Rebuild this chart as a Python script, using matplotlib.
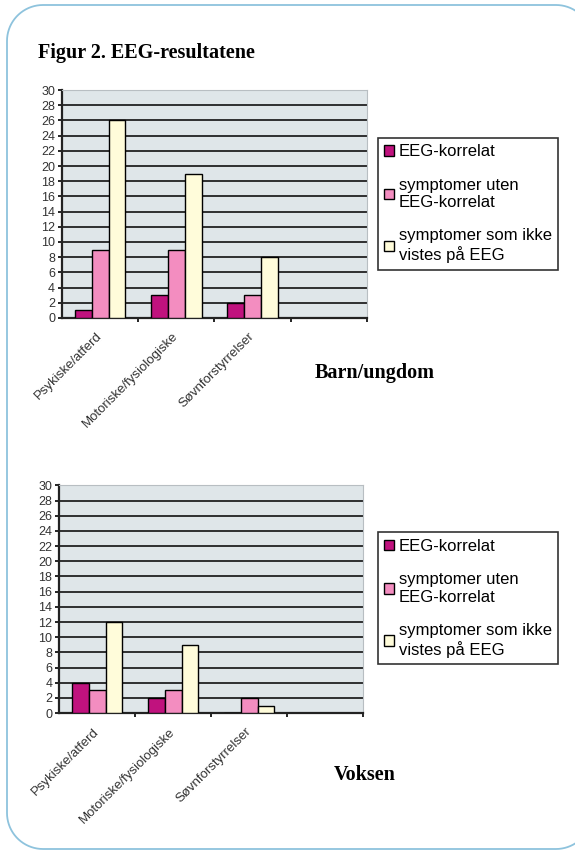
import matplotlib.pyplot as plt
from matplotlib.patches import PathPatch, Patch
from matplotlib.path import Path
from matplotlib.transforms import ScaledTranslation
import numpy as np

# Data
categories = ["Psykiske/atferd", "Motoriske/fysiologiske", "Søvnforstyrrelser", ""]
series_labels = ["EEG-korrelat", "symptomer uten\nEEG-korrelat", "symptomer som ikke\nvistes på EEG"]
barn_korrelat = [1, 3, 2]
barn_uten = [9, 9, 3]
barn_ikke = [26, 19, 8]
voksen_korrelat = [4, 2, 0]
voksen_uten = [3, 3, 2]
voksen_ikke = [12, 9, 1]
yticks = list(range(0, 31, 2))

colors = ["#C0127E", "#F38DC0", "#FFFCDA"]
plot_bg = "#DFE6E9"

fig = plt.figure(figsize=(5.75, 8.5), dpi=100)
fig.patch.set_facecolor("white")


def rounded_rect(x0, y0, x1, y1, r):
    # corners as quarter arcs, pixel coords (origin bottom-left)
    pts = []
    for cx, cy, a0 in [(x1 - r, y1 - r, 0), (x0 + r, y1 - r, 90),
                       (x0 + r, y0 + r, 180), (x1 - r, y0 + r, 270)]:
        a = np.radians(np.linspace(a0, a0 + 90, 20))
        pts += list(zip(cx + r * np.cos(a), cy + r * np.sin(a)))
    pts.append(pts[0])
    return Path(pts)


# frame around the figure, right side runs off the picture
frame = PathPatch(rounded_rect(7, 1, 592, 845, 36), transform=None,
                  facecolor="none", edgecolor="#8EC3DD", linewidth=1.3)
fig.patches.append(frame)

fig.text(0.066, 0.938, "Figur 2. EEG-resultatene", family="Liberation Serif",
         fontsize=14.5, fontweight="bold", va="center")


def draw_panel(rect, series, panel_label, label_pos, legend_pos):
    ax = fig.add_axes(rect)
    ax.set_facecolor(plot_bg)
    x = np.arange(len(categories))
    w = 0.22
    for i, vals in enumerate(series):
        ax.bar(np.arange(len(vals)) + (i - 1) * w, vals, w, color=colors[i],
               edgecolor="black", linewidth=1.0, zorder=3)
    ax.set_xlim(-0.5, len(categories) - 0.5)
    ax.set_ylim(0, 30)
    ax.set_yticks(yticks)
    ax.set_yticklabels([str(t) for t in yticks], family="Liberation Sans",
                       fontsize=9, color="#333333")
    ax.yaxis.grid(True, color="#111111", linewidth=1.2, zorder=1)
    ax.set_axisbelow(True)
    ax.set_xticks(x[:3])
    ax.set_xticklabels(categories[:3], rotation=45, ha="right", va="center",
                       rotation_mode="anchor", family="Liberation Sans",
                       fontsize=9.5, color="#333333")
    shift = ScaledTranslation(-11 / 100, 0, fig.dpi_scale_trans)
    for lbl in ax.get_xticklabels():
        lbl.set_transform(lbl.get_transform() + shift)
    ax.tick_params(axis="x", length=0, pad=12)
    ax.set_xticks(np.arange(0.5, len(categories), 1.0), minor=True)
    ax.tick_params(axis="x", which="minor", length=3, width=1.2)
    ax.tick_params(axis="y", length=3, width=1.2, pad=2)
    for s in ["left", "bottom"]:
        ax.spines[s].set_color("#222222")
        ax.spines[s].set_linewidth(1.6)
    for s in ["top", "right"]:
        ax.spines[s].set_color("#B8BEC2")
        ax.spines[s].set_linewidth(0.8)

    handles = [Patch(facecolor=c, edgecolor="black", linewidth=1.0) for c in colors]
    leg = fig.legend(handles, series_labels, loc="upper left",
                     bbox_to_anchor=legend_pos, bbox_transform=fig.transFigure,
                     prop={"family": "Liberation Sans", "size": 12},
                     frameon=True, fancybox=False, edgecolor="black",
                     labelspacing=1.1, handlelength=0.6, handleheight=0.6,
                     handletextpad=0.25, borderpad=0.4, borderaxespad=0)
    leg.get_frame().set_linewidth(1.2)
    fig.text(label_pos[0], label_pos[1], panel_label, family="Liberation Serif",
             fontsize=14.5, fontweight="bold", ha="center", va="center")
    return ax


draw_panel([0.108, 0.626, 0.530, 0.268], [barn_korrelat, barn_uten, barn_ikke],
           "Barn/ungdom", (0.652, 0.561), (0.657, 0.838))
draw_panel([0.103, 0.161, 0.529, 0.268], [voksen_korrelat, voksen_uten, voksen_ikke],
           "Voksen", (0.635, 0.088), (0.657, 0.374))

fig.savefig("out.png", dpi=100)
